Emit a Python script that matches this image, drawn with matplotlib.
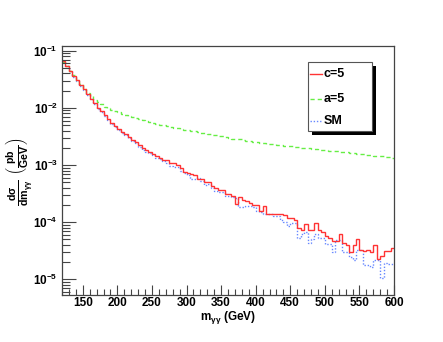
import numpy as np
import matplotlib
matplotlib.use("Agg")
import matplotlib.pyplot as plt
from matplotlib.patches import Rectangle
from matplotlib.lines import Line2D
from matplotlib.ticker import LogLocator, MultipleLocator

plt.rcParams['font.family'] = ['Liberation Sans', 'DejaVu Sans']
plt.rcParams['font.weight'] = 'bold'
plt.rcParams['mathtext.fontset'] = 'custom'
plt.rcParams['mathtext.rm'] = 'Liberation Sans:bold'
plt.rcParams['mathtext.it'] = 'Liberation Sans:bold'
plt.rcParams['mathtext.bf'] = 'Liberation Sans:bold'
plt.rcParams['mathtext.sf'] = 'Liberation Sans:bold'

# 5 GeV bins from 120 to 600 GeV
bin_edges = np.arange(120, 601, 5)

c5_values = [
    6.6e-2, 5.5e-2, 4.47e-2, 3.63e-2, 3.02e-2, 2.51e-2, 2.14e-2, 1.74e-2, 1.45e-2, 1.20e-2,
    1.00e-2, 8.7e-3, 7.4e-3, 6.5e-3, 5.5e-3, 4.9e-3, 4.27e-3, 3.8e-3, 3.47e-3, 3.09e-3,
    2.75e-3, 2.51e-3, 2.24e-3, 1.95e-3, 1.82e-3, 1.70e-3, 1.55e-3, 1.45e-3, 1.35e-3, 1.23e-3,
    1.20e-3, 1.07e-3, 1.07e-3, 1.00e-3, 8.7e-4, 7.6e-4, 7.1e-4, 6.9e-4, 6.6e-4, 5.6e-4,
    5.75e-4, 5.1e-4, 5.0e-4, 4.2e-4, 3.9e-4, 3.7e-4, 3.6e-4, 3.16e-4, 3.16e-4, 2.9e-4,
    2.1e-4, 2.8e-4, 2.4e-4, 2.3e-4, 2.14e-4, 2.0e-4, 2.0e-4, 1.58e-4, 1.9e-4, 1.41e-4,
    1.41e-4, 1.38e-4, 1.38e-4, 1.41e-4, 1.32e-4, 1.20e-4, 1.17e-4, 1.10e-4, 7.9e-5, 7.4e-5,
    9.1e-5, 7.4e-5, 7.4e-5, 9.5e-5, 7.2e-5, 6.8e-5, 5.6e-5, 5.2e-5, 4.6e-5, 4.6e-5,
    6.3e-5, 4.3e-5, 4.0e-5, 3.0e-5, 4.0e-5, 5.0e-5, 3.2e-5, 3.1e-5, 3.3e-5, 3.0e-5,
    4.0e-5, 2.3e-5, 2.6e-5, 3.1e-5, 3.1e-5, 3.5e-5,
]

a5_values = [
    6.3e-2, 5.4e-2, 4.5e-2, 3.7e-2, 3.1e-2, 2.57e-2, 2.14e-2, 1.82e-2, 1.58e-2, 1.38e-2,
    1.26e-2, 1.15e-2, 1.05e-2, 9.8e-3, 9.1e-3, 8.7e-3, 8.3e-3, 7.9e-3, 7.6e-3, 7.2e-3,
    6.9e-3, 6.6e-3, 6.3e-3, 6.1e-3, 5.9e-3, 5.7e-3, 5.5e-3, 5.3e-3, 5.1e-3, 4.95e-3,
    4.8e-3, 4.7e-3, 4.5e-3, 4.35e-3, 4.25e-3, 4.15e-3, 4.05e-3, 3.95e-3, 3.9e-3, 3.8e-3,
    3.7e-3, 3.6e-3, 3.5e-3, 3.4e-3, 3.3e-3, 3.25e-3, 3.15e-3, 3.1e-3, 3.0e-3, 2.9e-3,
    2.85e-3, 2.8e-3, 2.7e-3, 2.65e-3, 2.6e-3, 2.57e-3, 2.5e-3, 2.45e-3, 2.43e-3, 2.37e-3,
    2.34e-3, 2.3e-3, 2.26e-3, 2.2e-3, 2.19e-3, 2.14e-3, 2.11e-3, 2.09e-3, 2.04e-3, 2.02e-3,
    2.0e-3, 1.95e-3, 1.93e-3, 1.9e-3, 1.86e-3, 1.84e-3, 1.82e-3, 1.78e-3, 1.76e-3, 1.74e-3,
    1.7e-3, 1.68e-3, 1.66e-3, 1.62e-3, 1.6e-3, 1.58e-3, 1.55e-3, 1.53e-3, 1.51e-3, 1.48e-3,
    1.46e-3, 1.45e-3, 1.41e-3, 1.40e-3, 1.38e-3, 1.35e-3,
]

sm_values = [
    6.4e-2, 5.4e-2, 4.4e-2, 3.5e-2, 2.9e-2, 2.45e-2, 2.05e-2, 1.68e-2, 1.40e-2, 1.15e-2,
    9.6e-3, 8.3e-3, 7.1e-3, 6.2e-3, 5.3e-3, 4.6e-3, 4.1e-3, 3.6e-3, 3.3e-3, 2.95e-3,
    2.6e-3, 2.4e-3, 2.09e-3, 1.86e-3, 1.70e-3, 1.62e-3, 1.48e-3, 1.32e-3, 1.26e-3, 1.17e-3,
    1.10e-3, 9.5e-4, 9.3e-4, 9.3e-4, 7.9e-4, 7.1e-4, 6.8e-4, 5.75e-4, 5.75e-4, 6.0e-4,
    5.25e-4, 4.5e-4, 4.7e-4, 4.0e-4, 3.55e-4, 3.4e-4, 3.4e-4, 2.9e-4, 2.9e-4, 2.75e-4,
    2.6e-4, 1.86e-4, 1.86e-4, 1.9e-4, 1.9e-4, 1.86e-4, 1.58e-4, 1.51e-4, 1.38e-4, 1.41e-4,
    1.41e-4, 1.26e-4, 1.26e-4, 1.10e-4, 1.00e-4, 8.5e-5, 9.5e-5, 9.5e-5, 5.2e-5, 6.3e-5,
    6.8e-5, 4.3e-5, 5.0e-5, 6.3e-5, 5.2e-5, 5.2e-5, 4.2e-5, 4.2e-5, 3.0e-5, 4.9e-5,
    4.9e-5, 3.0e-5, 3.0e-5, 2.45e-5, 2.2e-5, 3.2e-5, 3.2e-5, 1.78e-5, 1.78e-5, 1.62e-5,
    2.2e-5, 2.2e-5, 1.05e-5, 1.9e-5, 1.86e-5, 1.86e-5,
]

series_labels = ['c=5', 'a=5', 'SM']
x_ticks = [150, 200, 250, 300, 350, 400, 450, 500, 550, 600]

W, H = 443, 342
fig = plt.figure(figsize=(W / 100, H / 100), dpi=100)
ax = fig.add_axes([62 / W, 1 - 295 / H, (394 - 62) / W, (295 - 46) / H])

styles = {
    'c=5': dict(color='#ff3333', linestyle='-', linewidth=1.0),
    'a=5': dict(color='#66ee44', linestyle=(0, (3, 2.2)), linewidth=1.0),
    'SM': dict(color='#6688ff', linestyle=(0, (1, 1.3)), linewidth=1.0),
}

ax.stairs(sm_values, bin_edges, baseline=None, **styles['SM'])
ax.stairs(a5_values, bin_edges, baseline=None, **styles['a=5'])
ax.stairs(c5_values, bin_edges, baseline=None, **styles['c=5'])

ax.set_yscale('log')
ax.set_xlim(120, 600)
ax.set_ylim(5.3e-6, 0.1208)

ax.set_xticks(x_ticks)
ax.xaxis.set_minor_locator(MultipleLocator(10))
ax.yaxis.set_major_locator(LogLocator(base=10))
ax.yaxis.set_minor_locator(LogLocator(base=10, subs=np.arange(2, 10)))

tick_col = '#444444'
ax.tick_params(axis='both', which='both', direction='in', colors=tick_col,
               labelcolor='black', width=0.8, top=False, right=False)
ax.tick_params(axis='x', which='major', length=7, labelsize=8.5, pad=1.5)
ax.tick_params(axis='x', which='minor', length=4)
ax.tick_params(axis='y', which='major', length=10, labelsize=8.5, pad=3)
ax.tick_params(axis='y', which='minor', length=6)
for s in ax.spines.values():
    s.set_color('#444444')
    s.set_linewidth(0.9)

for lab in ax.get_xticklabels() + ax.get_yticklabels():
    lab.set_fontweight('bold')

fig.text(228 / W, 1 - 318 / H, r'm$_{\gamma\gamma}$ (GeV)', ha='center', va='center',
         fontsize=8.5, fontweight='bold')
fig.text(19 / W, 1 - 172 / H,
         r'$\frac{d\sigma}{dm_{\gamma\gamma}}\ \left(\frac{pb}{GeV}\right)$',
         rotation=90, ha='center', va='center', fontsize=11)

# legend box with ROOT-style shadow
lx0, lx1, ly0, ly1 = 308, 372, 62, 131
fig.add_artist(Rectangle(((lx0 + 4) / W, 1 - (ly1 + 4) / H), (lx1 - lx0) / W, (ly1 - ly0) / H,
                         transform=fig.transFigure, facecolor='black', edgecolor='black',
                         linewidth=0))
fig.add_artist(Rectangle((lx0 / W, 1 - ly1 / H), (lx1 - lx0) / W, (ly1 - ly0) / H,
                         transform=fig.transFigure, facecolor='white', edgecolor='#555555',
                         linewidth=0.8))
entry_y = [74, 99, 121]
for lab, yy in zip(series_labels, entry_y):
    st = styles[lab]
    fig.add_artist(Line2D([310 / W, 322 / W], [1 - yy / H, 1 - yy / H],
                          transform=fig.transFigure, **st))
    fig.text(324 / W, 1 - yy / H, lab, ha='left', va='center', fontsize=9,
             fontweight='bold')

fig.savefig('out.png', dpi=100)
